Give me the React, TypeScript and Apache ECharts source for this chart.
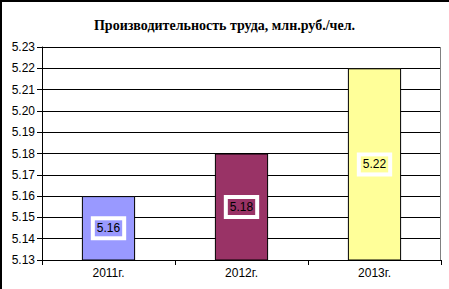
import React, { useEffect, useRef } from "react";
import * as echarts from "echarts";

const categories = ["2011г.", "2012г.", "2013г."];
const values = [5.16, 5.18, 5.22];
const barColors = ["#9999FF", "#993366", "#FFFF99"];
const titleText = "Производительность труда, млн.руб./чел.";

export default function App() {
  const ref = useRef<HTMLDivElement>(null);
  useEffect(() => {
    const chart = echarts.init(ref.current!, null, { renderer: "svg" });
    chart.setOption({
      animation: false,
      backgroundColor: "#ffffff",
      title: {
        text: titleText,
        left: "center",
        top: 13,
        textStyle: { fontFamily: "Liberation Serif", fontWeight: "bold", fontSize: 14, color: "#000" },
      },
      graphic: [
        { type: "line", shape: { x1: 1, y1: 0, x2: 1, y2: 289 }, style: { stroke: "#000", lineWidth: 2 } },
        { type: "line", shape: { x1: 0, y1: 1, x2: 449, y2: 1 }, style: { stroke: "#000", lineWidth: 2 } },
        { type: "line", shape: { x1: 440.5, y1: 47, x2: 440.5, y2: 260 }, style: { stroke: "#808080", lineWidth: 1 }, z: 10 },
      ],
      grid: { left: 42, right: 8, top: 47, bottom: 29 },
      xAxis: {
        type: "category",
        data: categories,
        axisLine: { lineStyle: { color: "#000", width: 1 } },
        axisTick: { show: true, length: 5, lineStyle: { color: "#000" } },
        axisLabel: { color: "#000", fontFamily: "Liberation Sans", fontSize: 12, margin: 7 },
      },
      yAxis: {
        type: "value",
        min: 5.13,
        max: 5.23,
        interval: 0.01,
        axisLine: { show: true, lineStyle: { color: "#000", width: 1 } },
        axisTick: { show: true, length: 5, lineStyle: { color: "#000" } },
        axisLabel: {
          color: "#000",
          fontFamily: "Liberation Sans",
          fontSize: 12,
          margin: 7,
          formatter: (v: number) => v.toFixed(2),
        },
        splitLine: { show: true, lineStyle: { color: "#000", width: 1 } },
      },
      series: [
        {
          type: "bar",
          barWidth: "40%",
          data: values.map((v, i) => ({
            value: v,
            itemStyle: { color: barColors[i], borderColor: "#000", borderWidth: 1 },
            label: { backgroundColor: barColors[i] },
          })),
          label: {
            show: true,
            position: "inside",
            formatter: (p: any) => p.value.toFixed(2),
            color: "#000",
            fontFamily: "Liberation Sans",
            fontSize: 12,
            lineHeight: 10,
            padding: [3, 2],
            borderColor: "#fff",
            borderWidth: 4,
          },
        },
      ],
    });
    return () => chart.dispose();
  }, []);
  return <div ref={ref} style={{ width: 449, height: 289, position: "absolute", left: 0, top: 0 }} />;
}
